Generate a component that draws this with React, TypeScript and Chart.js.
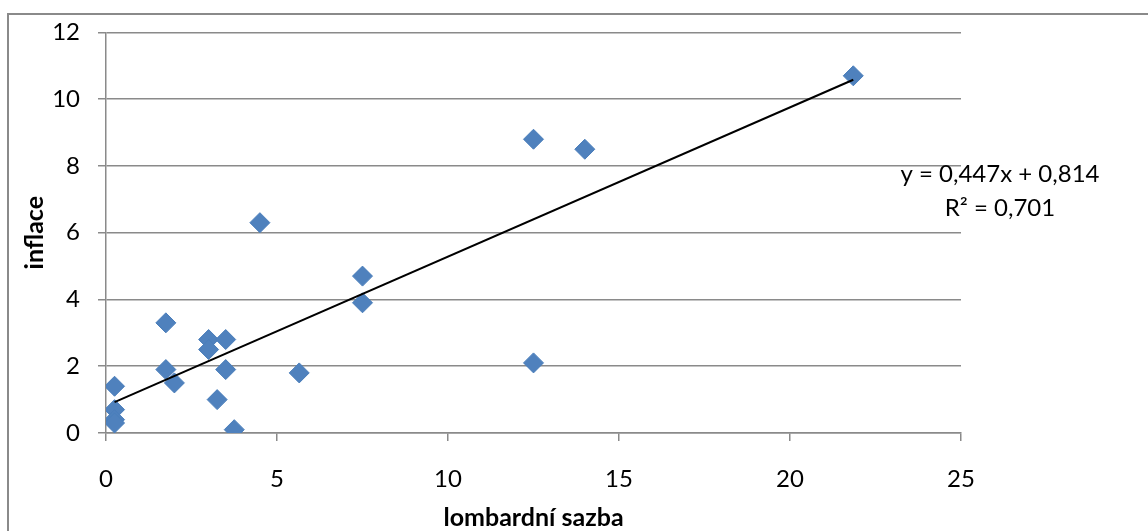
import React, { useEffect, useRef } from "react";
import { Chart, registerables } from "chart.js";

Chart.register(...registerables);

// lombardní sazba (x) and inflace (y)
const lombardRate = [0.25, 0.25, 0.25, 0.25, 1.75, 1.75, 2, 3, 3, 3.25, 3.5, 3.5, 3.75, 4.5, 5.65, 7.5, 7.5, 12.5, 12.5, 14, 21.85];
const inflation = [1.4, 0.7, 0.4, 0.3, 3.3, 1.9, 1.5, 2.8, 2.5, 1.0, 2.8, 1.9, 0.1, 6.3, 1.8, 4.7, 3.9, 8.8, 2.1, 8.5, 10.7];

// Trendline coefficients as printed in the chart
const trendSlope = 0.447;
const trendIntercept = 0.814;
const trendLabels = ["y = 0,447x + 0,814", "R² = 0,701"];

const xTitle = "lombardní sazba";
const yTitle = "inflace";

const FONT = "Lato, 'Open Sans', sans-serif";
const GRID = "#8a8a8a";

export default function App() {
  const ref = useRef<HTMLCanvasElement | null>(null);

  useEffect(() => {
    const canvas = ref.current;
    if (!canvas) return;

    const points = lombardRate.map((x, i) => ({ x, y: inflation[i] }));
    const xMin = Math.min(...lombardRate);
    const xMax = Math.max(...lombardRate);
    const trend = [
      { x: xMin, y: trendSlope * xMin + trendIntercept },
      { x: xMax, y: trendSlope * xMax + trendIntercept },
    ];

    const borderPlugin = {
      id: "outerBorder",
      beforeDraw(chart: any) {
        const ctx = chart.ctx;
        ctx.save();
        ctx.fillStyle = "#ffffff";
        ctx.fillRect(0, 0, chart.width, chart.height);
        ctx.strokeStyle = GRID;
        ctx.lineWidth = 2;
        ctx.strokeRect(8, 14, chart.width + 50, chart.height + 50);
        ctx.restore();
      },
    };

    const labelPlugin = {
      id: "trendLabel",
      afterDatasetsDraw(chart: any) {
        const ctx = chart.ctx;
        const a = chart.chartArea;
        ctx.save();
        ctx.font = `24px ${FONT}`;
        ctx.fillStyle = "#000";
        ctx.textAlign = "center";
        ctx.textBaseline = "middle";
        const cx = a.right + 39;
        ctx.fillText(trendLabels[0], cx, a.top + 142);
        ctx.fillText(trendLabels[1], cx, a.top + 176);
        ctx.restore();
      },
    };

    const chart = new Chart(canvas, {
      type: "scatter",
      data: {
        datasets: [
          {
            type: "line",
            label: "trend",
            data: trend,
            borderColor: "#000000",
            borderWidth: 2,
            pointRadius: 0,
            fill: false,
            order: 0,
          } as any,
          {
            label: "data",
            data: points,
            pointStyle: "rectRot",
            pointRadius: 10,
            pointHoverRadius: 10,
            backgroundColor: "#4F81BD",
            borderColor: "#4A7EBB",
            borderWidth: 1,
            order: 1,
          },
        ],
      },
      options: {
        animation: false,
        responsive: false,
        events: [],
        layout: { padding: { left: 0, right: 187, top: 29, bottom: 0 } },
        plugins: {
          legend: { display: false },
          tooltip: { enabled: false },
        },
        scales: {
          x: {
            type: "linear",
            min: 0,
            max: 25,
            ticks: {
              stepSize: 5,
              color: "#000",
              padding: 24,
              font: { family: FONT, size: 24 },
            },
            grid: {
              drawOnChartArea: false,
              drawTicks: true,
              tickLength: 8,
              color: GRID,
              lineWidth: 1.5,
            },
            border: { color: GRID, width: 1.5 },
            title: {
              display: true,
              text: xTitle,
              color: "#000",
              font: { family: FONT, size: 25, weight: "bold" },
              padding: { top: 0, bottom: -2 },
            },
            afterFit(scale: any) {
              scale.height = 98;
            },
          },
          y: {
            type: "linear",
            min: 0,
            max: 12,
            ticks: {
              stepSize: 2,
              color: "#000",
              padding: 18,
              font: { family: FONT, size: 24 },
            },
            grid: {
              drawTicks: true,
              tickLength: 8,
              color: GRID,
              lineWidth: 1.5,
            },
            border: { color: GRID, width: 1.5 },
            title: {
              display: true,
              text: yTitle,
              color: "#000",
              font: { family: FONT, size: 25, weight: "bold" },
              padding: { top: 20, bottom: 0 },
            },
            afterFit(scale: any) {
              scale.width = 106;
            },
          },
        },
      },
      plugins: [borderPlugin, labelPlugin],
    });

    return () => chart.destroy();
  }, []);

  return (
    <div style={{ position: "absolute", left: 0, top: 0, width: 1148, height: 531 }}>
      <canvas ref={ref} width={1148} height={531} style={{ display: "block" }} />
    </div>
  );
}
